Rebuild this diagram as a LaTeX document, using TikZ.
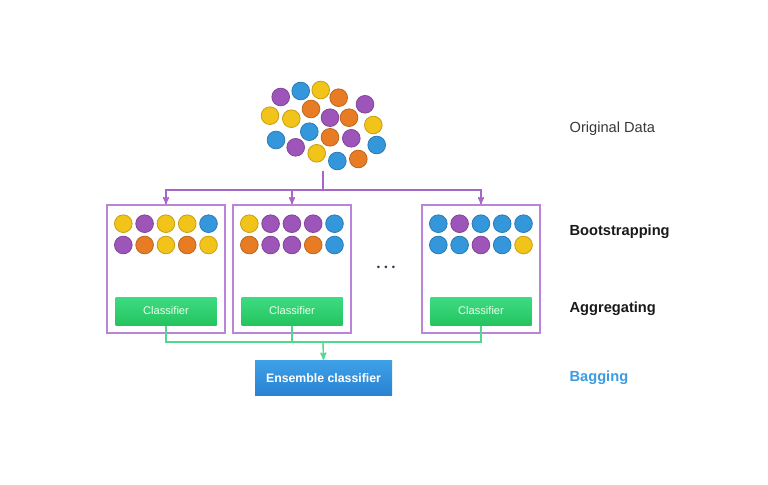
\documentclass[tikz,border=0pt]{standalone}
\usepackage{fontspec}
\setmainfont{Liberation Sans}
\usetikzlibrary{arrows,shapes}
\definecolor{yel}{HTML}{F2C318}
\definecolor{pur}{HTML}{9D55B9}
\definecolor{blu}{HTML}{3497DB}
\definecolor{ora}{HTML}{E77C24}
\definecolor{boxpur}{HTML}{BA84DA}
\definecolor{linepur}{HTML}{A767CA}
\definecolor{linegrn}{HTML}{4FD98C}
\definecolor{grntop}{HTML}{3EDB83}
\definecolor{grnbot}{HTML}{24C45F}
\definecolor{enstop}{HTML}{3EA0E7}
\definecolor{ensbot}{HTML}{2982D2}
\definecolor{bagblu}{HTML}{3A9BE3}
\tikzstyle{dot} = [circle, line width=0.7pt, minimum size=0.53cm, inner sep=0pt]
\tikzstyle{bag} = [rectangle, draw=boxpur, line width=1.2pt, minimum width=3.54cm, minimum height=3.84cm]
\tikzstyle{clf} = [rectangle, top color=grntop, bottom color=grnbot,
    minimum width=3.03cm, minimum height=0.84cm, text=white!92!green, font=\fontsize{9.5}{11}\selectfont]
\tikzstyle{lbl} = [anchor=west, font=\fontsize{12.5}{14}\selectfont\bfseries, text=black!90]

\begin{document}
\begin{tikzpicture}[x=0.03cm,y=-0.03cm,>=stealth',line width=1.2pt]
  \useasboundingbox (0,0) rectangle (768,485);

  \foreach \x/\y/\c [count=\i] in {280.7/97/pur, 300.7/91/blu, 320.7/90/yel, 338.7/97.7/ora,
      365/104.3/pur, 270/115.7/yel, 291.3/118.7/yel, 311/109/ora, 330/117.7/pur,
      349/117.7/ora, 373.3/125/yel, 276/140/blu, 309.3/131.7/blu, 330/137.3/ora,
      351.3/138.3/pur, 376.7/145/blu, 295.7/147.3/pur, 316.7/153.3/yel, 337.3/161/blu,
      358.3/159/ora}
    \node[dot,fill=\c,draw=\c!82!black] (d\i) at (\x,\y) {};

  \node[bag] (bag1) at (166,269) {};
  \node[bag] (bag2) at (292,269) {};
  \node[bag] (bag3) at (481,269) {};

  \foreach \k/\dx/\cols in {1/0/{yel,pur,yel,yel,blu,pur,ora,yel,ora,yel},
      2/126/{yel,pur,pur,pur,blu,ora,pur,pur,ora,blu},
      3/315/{blu,pur,blu,blu,blu,blu,blu,pur,blu,yel}}
    \foreach \c [count=\i] in \cols {
      \pgfmathtruncatemacro\col{mod(\i-1,5)}
      \pgfmathtruncatemacro\row{(\i-1)/5}
      \node[dot,fill=\c,draw=\c!82!black] (s\k-\i) at (123.3+\dx+21.3*\col,223.7+21.3*\row) {};
    }

  \node[clf] (clf1) at (166,311) {Classifier};
  \node[clf] (clf2) at (292,311) {Classifier};
  \node[clf] (clf3) at (481,311) {Classifier};

  \node[rectangle, top color=enstop, bottom color=ensbot,
    minimum width=4.11cm, minimum height=1.05cm, text=white, font=\fontsize{10.5}{12}\selectfont\bfseries]
    (ens) at (323.5,378) {Ensemble classifier};

  \node[text={rgb,255:red,40;green,55;blue,75}, font=\fontsize{8}{9}\selectfont, inner sep=0pt]
    (more) at (386,268) {\textbullet\hspace{3.6pt}\textbullet\hspace{3.6pt}\textbullet};

  \coordinate (src) at (323,171);
  \coordinate (split) at (323,190);
  \coordinate (merge) at (323,342);

  \draw[linepur] (src) -- (split);
  \draw[linepur,->] (split) -| (bag1.north);
  \draw[linepur,->] (split) -| (bag2.north);
  \draw[linepur,->] (split) -| (bag3.north);

  \draw[linegrn] (clf1.south) |- (merge);
  \draw[linegrn] (clf3.south) |- (merge);
  \draw[linegrn] (clf2.south) -- (clf2.south |- merge);
  \draw[linegrn,->] (merge) -- (ens.north);

  \node[anchor=west, text=black!78, font=\fontsize{12.5}{14}\selectfont] (orig) at (565,129) {Original Data};
  \node[lbl] (boot) at (565,232) {Bootstrapping};
  \node[lbl] (aggr) at (565,309) {Aggregating};
  \node[lbl, text=bagblu] (bagg) at (565,378) {Bagging};
\end{tikzpicture}
\end{document}
